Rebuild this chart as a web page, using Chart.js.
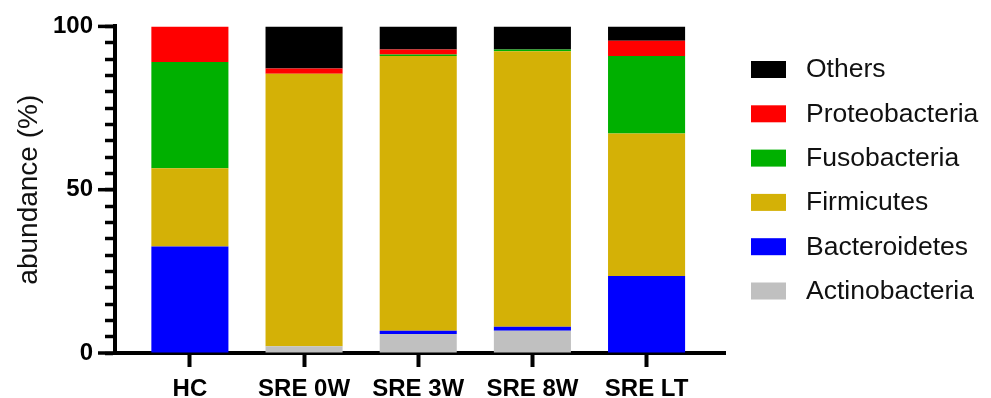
<!DOCTYPE html>
<html>
<head>
<meta charset="utf-8">
<script src="https://cdn.jsdelivr.net/npm/chart.js@4"></script>
<style>
  html, body { margin: 0; padding: 0; background: #ffffff; }
  #wrap { width: 991px; height: 398px; }
</style>
</head>
<body>
<div id="wrap"><canvas id="chart" width="991" height="398"></canvas></div>
<script>
// Relative abundance (%) of bacterial phyla per group
const categories = ['HC', 'SRE 0W', 'SRE 3W', 'SRE 8W', 'SRE LT'];
const actinobacteria = [0, 2.1, 5.8, 6.8, 0];
const bacteroidetes = [32.6, 0, 1.0, 1.2, 23.6];
const firmicutes = [24.0, 83.4, 84.1, 84.4, 43.6];
const fusobacteria = [32.5, 0, 0.5, 0.5, 23.7];
const proteobacteria = [10.9, 1.6, 1.5, 0, 4.7];
const others = [0, 12.9, 7.1, 7.1, 4.4];
const yTickLabels = [0, 50, 100];

const FONT = '"Liberation Sans", Arial, Helvetica, sans-serif';
Chart.defaults.font.family = FONT;
Chart.defaults.color = '#000';

const toPoints = arr => arr.map((v, i) => ({ x: i, y: v }));

const series = [
  { label: 'Actinobacteria', values: actinobacteria, color: '#c0c0c0' },
  { label: 'Bacteroidetes', values: bacteroidetes, color: '#0000ff' },
  { label: 'Firmicutes', values: firmicutes, color: '#d4b106' },
  { label: 'Fusobacteria', values: fusobacteria, color: '#00b000' },
  { label: 'Proteobacteria', values: proteobacteria, color: '#ff0000' },
  { label: 'Others', values: others, color: '#000000' }
];

// Longer marks at the labelled values of the y axis
const majorTicks = {
  id: 'majorTicks',
  afterDraw(chart) {
    const y = chart.scales.y;
    const ctx = chart.ctx;
    ctx.save();
    ctx.strokeStyle = '#000';
    ctx.lineWidth = 3.5;
    yTickLabels.forEach(v => {
      const py = y.getPixelForValue(v);
      ctx.beginPath();
      ctx.moveTo(y.right - 17, py);
      ctx.lineTo(y.right, py);
      ctx.stroke();
    });
    ctx.restore();
  }
};

// Legend on the right, top-most stack segment first
const sideLegend = {
  id: 'sideLegend',
  afterDraw(chart) {
    const ctx = chart.ctx;
    const x0 = chart.chartArea.right + 26;
    ctx.save();
    ctx.font = '26.5px ' + FONT;
    ctx.textBaseline = 'middle';
    ctx.textAlign = 'left';
    chart.data.datasets.slice().reverse().forEach((d, i) => {
      const y = 61 + i * 44.3;
      ctx.fillStyle = d.backgroundColor;
      ctx.fillRect(x0, y, 35, 17);
      ctx.fillStyle = '#111';
      ctx.fillText(d.label, x0 + 55, y + 9);
    });
    ctx.restore();
  }
};

new Chart(document.getElementById('chart'), {
  type: 'bar',
  data: {
    datasets: series.map(s => ({
      label: s.label,
      data: toPoints(s.values),
      backgroundColor: s.color,
      borderWidth: 0
    }))
  },
  options: {
    responsive: false,
    animation: false,
    devicePixelRatio: 1,
    layout: { padding: { top: 25, right: 266, left: 0, bottom: 0 } },
    datasets: { bar: { categoryPercentage: 1, barPercentage: 0.675 } },
    plugins: { legend: { display: false }, tooltip: { enabled: false } },
    scales: {
      x: {
        type: 'linear',
        stacked: true,
        offset: false,
        min: -0.656,
        max: 4.687,
        z: 1,
        afterBuildTicks: s => {
          s.ticks = categories.map((_, i) => ({ value: i }));
        },
        afterFit: s => { s.height = 45; },
        ticks: {
          autoSkip: false,
          maxRotation: 0,
          padding: 8,
          color: '#000',
          font: { size: 24, weight: 'bold' },
          callback: v => categories[v]
        },
        grid: { drawOnChartArea: false, offset: false, tickLength: 14, tickWidth: 4, tickColor: '#000' },
        border: { display: true, width: 4, color: '#000' }
      },
      y: {
        stacked: true,
        min: 0,
        max: 100,
        z: 1,
        afterFit: s => { s.width = 115; },
        ticks: {
          stepSize: 5,
          autoSkip: false,
          padding: 12,
          color: '#000',
          font: { size: 24, weight: 'bold' },
          callback: v => (yTickLabels.includes(v) ? String(v) : '')
        },
        grid: { drawOnChartArea: false, tickLength: 10, tickWidth: 3.5, tickColor: '#000' },
        border: { display: true, width: 4, color: '#000' },
        title: {
          display: true,
          text: 'abundance (%)',
          color: '#111',
          font: { size: 28, weight: 'normal' },
          padding: { top: 12, bottom: 0 }
        }
      }
    }
  },
  plugins: [majorTicks, sideLegend]
});
</script>
</body>
</html>
